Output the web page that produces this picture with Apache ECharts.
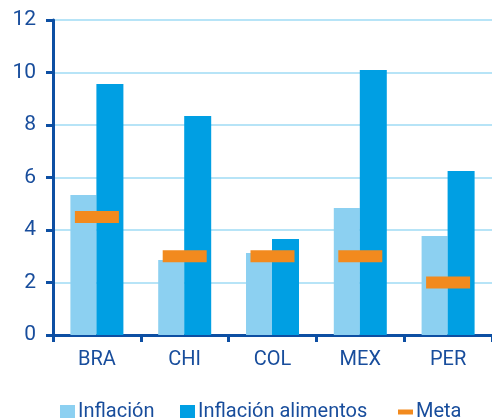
<!DOCTYPE html>
<html><head><meta charset="utf-8">
<script src="https://cdn.jsdelivr.net/npm/echarts@6/dist/echarts.min.js"></script>
<style>html,body{margin:0;padding:0;background:#fff}#c{width:492px;height:418px}</style>
</head><body><div id="c"></div>
<script>
const categories = ['BRA','CHI','COL','MEX','PER'];
const inflacion = [5.33, 2.86, 3.12, 4.84, 3.77];
const inflacionAlimentos = [9.56, 8.34, 3.66, 10.1, 6.25];
const meta = [4.5, 3.0, 3.0, 3.0, 2.0];
const yTicks = [0, 2, 4, 6, 8, 10, 12];

const axisBlue = '#0d4fa3';
const textBlue = '#184d9c';
const font = 'Roboto, "Noto Sans", sans-serif';
const legendText = {color: textBlue, fontSize: 20, fontFamily: font, padding: [0,0,0,-2]};
const chart = echarts.init(document.getElementById('c'));
chart.setOption({
  animation: false,
  grid: {left: 53, right: 0, top: 20, bottom: 83, containLabel: false},
  legend: [{
    left: 55, top: 397, itemWidth: 15, itemHeight: 14, icon: 'rect',
    textStyle: legendText, data: ['Inflación']
  }, {
    left: 175, top: 397, itemWidth: 15, itemHeight: 14, icon: 'rect',
    textStyle: legendText, data: ['Inflación alimentos']
  }, {
    left: 393, top: 397, itemWidth: 15, itemHeight: 5, icon: 'rect',
    textStyle: legendText, data: ['Meta']
  }],
  xAxis: {
    type: 'category', data: categories,
    axisLine: {lineStyle: {color: axisBlue, width: 3}},
    axisTick: {show: true, length: 7, lineStyle: {color: axisBlue, width: 3}},
    axisLabel: {color: textBlue, fontSize: 20, fontFamily: font, margin: 15}
  },
  yAxis: {
    type: 'value', min: yTicks[0], max: yTicks[yTicks.length-1], interval: 2,
    axisLine: {show: true, lineStyle: {color: axisBlue, width: 3}},
    axisTick: {show: true, length: 7, lineStyle: {color: axisBlue, width: 3}},
    axisLabel: {color: textBlue, fontSize: 21, fontFamily: font, margin: 17},
    splitLine: {lineStyle: {color: '#b7e4f7', width: 2}}
  },
  series: [{
    name: 'Inflación', type: 'bar', data: inflacion, barWidth: 26, barGap: '0%',
    itemStyle: {color: '#8cd0f1'}
  }, {
    name: 'Inflación alimentos', type: 'bar', data: inflacionAlimentos, barWidth: 27,
    itemStyle: {color: '#009fe3'}
  }, {
    name: 'Meta', type: 'scatter', data: meta, symbol: 'rect', symbolSize: [44, 12],
    itemStyle: {color: '#f28a1e', opacity: 1, borderRadius: 2}, z: 5
  }]
});
</script></body></html>
